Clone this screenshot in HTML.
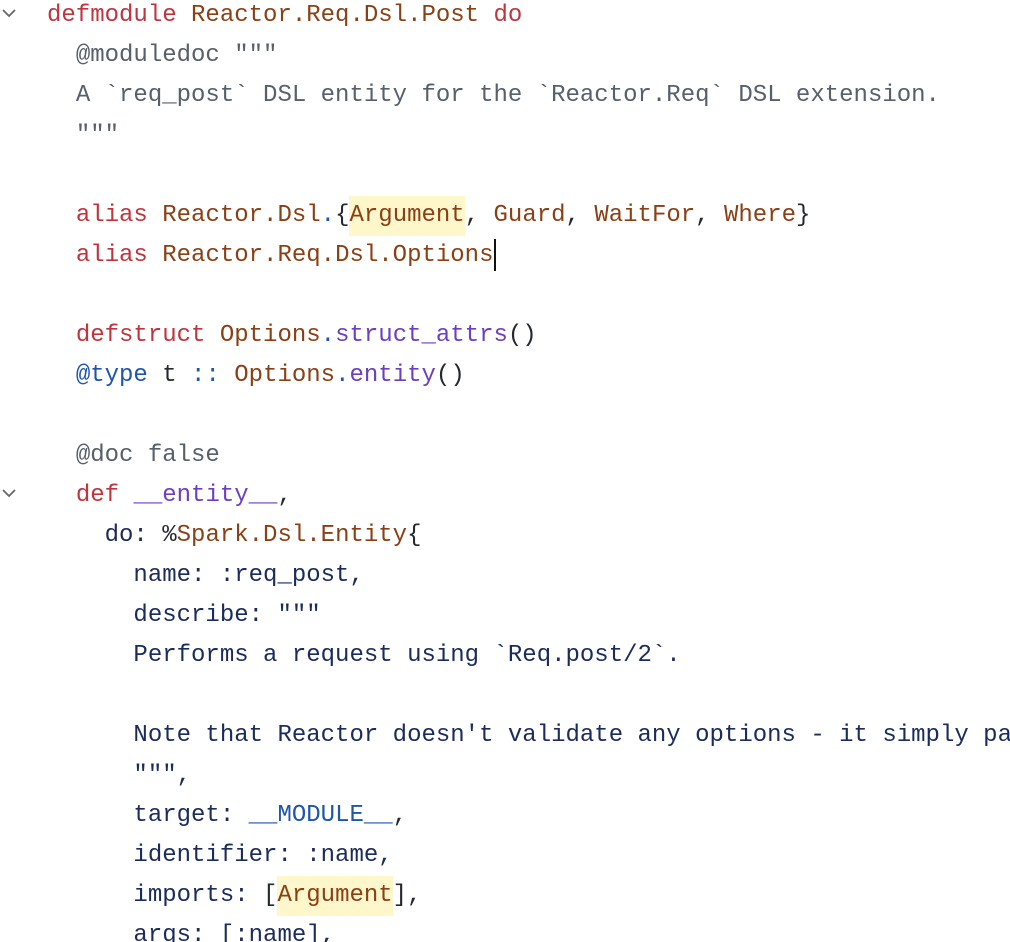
<!DOCTYPE html>
<html><head><meta charset="utf-8"><style>
html,body{margin:0;padding:0;background:#fff;width:1010px;height:942px;overflow:hidden}
.code{position:absolute;left:47px;top:-4px;width:963px;height:946px;overflow:hidden;font-family:"Liberation Mono","DejaVu Sans Mono",monospace;font-size:24px;line-height:40px;white-space:pre;color:#24292f}
.k{color:#c1343e}.m{color:#8b3f15}.g{color:#57606a}.n{color:#1b2b5a}.f{color:#6b3fc4}.b{color:#1f55ad}
.h{background:#fff7cc;display:inline-block;height:40px}
.cur{display:inline-block;width:2px;height:32px;background:#111;vertical-align:middle}
.chev{position:absolute;left:2px;width:14px;height:14px}
</style></head><body>
<svg class="chev" style="top:6px" viewBox="0 0 14 14"><path d="M1 4 L7 10 L13 4" fill="none" stroke="#666" stroke-width="1.8"/></svg>
<svg class="chev" style="top:486px" viewBox="0 0 14 14"><path d="M1 4 L7 10 L13 4" fill="none" stroke="#666" stroke-width="1.8"/></svg>
<div class="code"><span class="k">defmodule</span> <span class="m">Reactor.Req.Dsl.Post</span> <span class="k">do</span>
  <span class="g">@moduledoc """</span>
  <span class="g">A `req_post` DSL entity for the `Reactor.Req` DSL extension.</span>
  <span class="g">"""</span>

  <span class="k">alias</span> <span class="m">Reactor.Dsl</span><span class="b">.</span>{<span class="h m">Argument</span>, <span class="m">Guard</span>, <span class="m">WaitFor</span>, <span class="m">Where</span>}
  <span class="k">alias</span> <span class="m">Reactor.Req.Dsl.Options</span><span class="cur"></span>

  <span class="k">defstruct</span> <span class="m">Options</span><span class="b">.</span><span class="f">struct_attrs</span>()
  <span class="b">@type</span> t <span class="b">::</span> <span class="m">Options</span><span class="b">.</span><span class="f">entity</span>()

  <span class="g">@doc false</span>
  <span class="k">def</span> <span class="f">__entity__</span>,
    <span class="n">do:</span> %<span class="m">Spark.Dsl.Entity</span>{
      <span class="n">name: :req_post,</span>
      <span class="n">describe: """</span>
      <span class="n">Performs a request using `Req.post/2`.</span>

      <span class="n">Note that Reactor doesn't validate any options - it simply pa</span>
      <span class="n">""",</span>
      <span class="n">target:</span> <span class="b">__MODULE__</span>,
      <span class="n">identifier: :name,</span>
      <span class="n">imports:</span> [<span class="h m">Argument</span>],
      <span class="n">args: [:name],</span>
</div>
</body></html>
